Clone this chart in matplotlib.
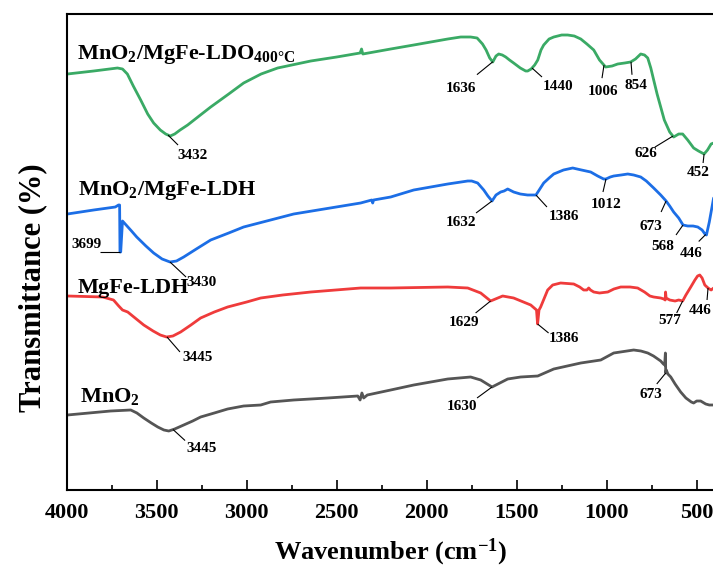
import numpy as np
import matplotlib
matplotlib.use("Agg")
import matplotlib.pyplot as plt
from matplotlib.ticker import MultipleLocator

plt.rcParams['font.family'] = ['Liberation Serif', 'DejaVu Serif']
plt.rcParams['font.weight'] = 'bold'
plt.rcParams['mathtext.fontset'] = 'custom'
plt.rcParams['mathtext.rm'] = 'Liberation Serif:bold'
plt.rcParams['mathtext.it'] = 'Liberation Serif:bold'
plt.rcParams['mathtext.bf'] = 'Liberation Serif:bold'

# ---------------- data (wavenumber, transmittance a.u., offset-stacked) -------------
ldo_wn = [3996, 3850, 3718, 3690, 3663, 3630, 3589, 3550, 3517, 3480, 3450, 3425, 3400, 3370,
          3328, 3250, 3200, 3100, 3017, 2920, 2828, 2644, 2500, 2370, 2362, 2355, 2200, 2072,
          1883, 1811, 1756, 1720, 1690, 1670, 1650, 1633, 1615, 1600, 1580, 1561, 1540, 1517,
          1480, 1450, 1439, 1420, 1400, 1383, 1365, 1350, 1320, 1294, 1250, 1217, 1180, 1144,
          1110, 1072, 1040, 1006, 970, 939, 900, 867, 840, 811, 790, 772, 755, 739, 720, 700,
          680, 650, 628, 600, 578, 550, 517, 490, 459, 440, 420, 406]
ldo_t = [416, 419, 422, 421, 416, 404, 390, 376, 367, 360, 356, 354, 356, 360,
         365, 376, 383, 396, 407, 416, 422, 429, 433, 437, 441, 436, 441, 445,
         451, 453, 453, 452, 446, 440, 432, 428, 434, 436, 435, 433, 430, 427,
         422, 419, 419, 421, 425, 430, 440, 445, 451, 453, 455, 455, 454, 451,
         446, 440, 430, 423, 424, 426, 427, 428, 431, 436, 435, 432, 422, 410, 396, 383,
         370, 358, 353, 356, 356, 350, 342, 339, 336, 340, 346, 347]

ldh_mn_wn = [3996, 3850, 3730, 3712, 3706, 3704, 3700, 3690, 3670, 3640, 3611, 3560, 3517,
             3470, 3426, 3390, 3350, 3280, 3200, 3100, 3017, 2739, 2367, 2305, 2300, 2295,
             2200, 2072, 1883, 1772, 1750, 1717, 1683, 1660, 1637, 1615, 1589, 1570, 1550,
             1517, 1480, 1440, 1393, 1375, 1350, 1320, 1294, 1240, 1189, 1140, 1089, 1050,
             1017, 1004, 980, 961, 920, 883, 850, 811, 780, 739, 700, 670, 650, 628, 600,
             576, 550, 520, 494, 470, 454, 446, 430, 415, 406]
ldh_mn_t = [276, 280, 283, 285, 285, 238, 238, 269, 265, 259, 253, 244, 237,
            231, 228, 229, 233, 241, 250, 257, 263, 276, 287, 290, 287, 290,
            293, 300, 306, 309, 309, 307, 300, 294, 289, 295, 298, 299, 301,
            298, 296, 295, 295, 300, 307, 312, 316, 320, 322, 320, 318, 314,
            311, 311, 313, 314, 315, 316, 315, 313, 309, 302, 295, 289, 284, 278, 272,
            265, 264, 264, 263, 260, 256, 255, 268, 283, 292]

ldh_wn = [3996, 3800, 3740, 3711, 3690, 3661, 3620, 3572, 3520, 3480, 3445, 3410, 3367, 3310,
          3256, 3180, 3106, 3000, 2922, 2800, 2644, 2367, 2200, 1883, 1772, 1700, 1645, 1578,
          1517, 1422, 1390, 1384, 1376, 1367, 1328, 1300, 1256, 1183, 1150, 1128, 1110, 1100,
          1090, 1072, 1040, 994, 960, 922, 870, 828, 790, 760, 739, 700, 683, 675, 673, 670,
          650, 620, 600, 578, 560, 533, 510, 495, 483, 470, 455, 437, 420, 406]
ldh_t = [194, 193, 190, 184, 180, 178, 172, 165, 159, 155, 153, 154, 158, 165,
         172, 178, 183, 188, 192, 195, 198, 202, 202, 203, 202, 197, 189, 194,
         192, 185, 180, 166, 180, 183, 200, 205, 207, 206, 203, 200, 200, 202,
         200, 198, 197, 198, 201, 203, 203, 202, 198, 194, 193, 192, 191, 190, 198, 192,
         190, 189, 190, 189, 195, 203, 210, 214, 215, 212, 205, 202, 200, 202]

mno2_wn = [3996, 3756, 3644, 3610, 3572, 3530, 3494, 3460, 3433, 3400, 3350, 3300, 3256, 3180,
           3106, 3017, 2922, 2867, 2739, 2550, 2383, 2370, 2360, 2350, 2330, 2200, 2072, 1883,
           1756, 1700, 1637, 1550, 1478, 1383, 1294, 1144, 1033, 961, 850, 810, 772, 740, 700,
           685, 678, 674, 672, 669, 660, 644, 620, 589, 560, 530, 517, 500, 478, 450, 430, 406]
mno2_t = [75, 79, 80, 77, 72, 67, 63, 60, 59, 61, 65, 69, 73, 77,
          81, 84, 85, 88, 90, 92, 94, 90, 97, 92, 95, 100, 105, 111,
          113, 110, 103, 111, 113, 114, 121, 127, 130, 137, 140, 139, 137, 134, 129,
          126, 125, 137, 117, 120, 116, 113, 106, 98, 92, 88, 87, 89, 89, 86, 85, 85]

series_names = [r'MnO$_{2}$/MgFe-LDO$_{\mathrm{400°C}}$', r'MnO$_{2}$/MgFe-LDH',
                'MgFe-LDH', r'MnO$_{2}$']
series_wn = [ldo_wn, ldh_mn_wn, ldh_wn, mno2_wn]
series_t = [ldo_t, ldh_mn_t, ldh_t, mno2_t]
colors = ['#3aaa65', '#1c6ee6', '#ef3b3b', '#555555']
name_anchor = [(3943, 431), (3937, 295), (3937, 197), (3926, 88)]

# peak labels: (label, wavenumber where leader starts)
peaks = [
    [('3432', 3437), ('1636', 1632), ('1440', 1415), ('1006', 1015), ('854', 865),
     ('626', 632), ('452', 459)],
    [('3699', 3704), ('3430', 3426), ('1632', 1637), ('1386', 1393), ('1012', 1004),
     ('673', 670), ('568', 576), ('446', 450)],
    [('3445', 3443), ('1629', 1645), ('1386', 1384), ('577', 578), ('446', 437)],
    [('3445', 3409), ('1630', 1637), ('673', 672)],
]
# layout offsets in pixels (dx, dy_down): leader end, text centre
peak_offsets = [
    [((10, 10), (25, 20)), ((-16, 13), (-32, 27)), ((10, 9), (26, 19)), ((-2, 13), (-1, 26)),
     ((1, 13), (5, 24)), ((-18, 11), (-27, 17)), ((-1, 9), (-6, 18))],
    [((-20, 0), (-33, -7)), ((16, 15), (32, 21)), ((-16, 12), (-31, 22)), ((11, 12), (28, 21)),
     ((-3, 13), (0, 26)), ((-5, 11), (-15, 26)), ((-7, 10), (-20, 21)), ((-7, 7), (-15, 19))],
    [((13, 15), (31, 21)), ((-15, 12), (-27, 21)), ((11, 9), (26, 14)), ((-6, 12), (-13, 20)),
     ((-1, 12), (-8, 22))],
    [((12, 11), (29, 19)), ((-15, 11), (-30, 19)), ((-9, 11), (-15, 22))],
]

xticks = [4000, 3500, 3000, 2500, 2000, 1500, 1000, 500]

# ---------------- figure ----------------
fig = plt.figure(figsize=(7.13, 5.69), dpi=100)
ax = fig.add_axes([66.7 / 713, 79 / 569, 648 / 713, 476 / 569])

for wn, t, c in zip(series_wn, series_t, colors):
    ax.plot(wn, t, color=c, lw=2.0, solid_joinstyle='round', solid_capstyle='round')

ax.set_xlim(4000, 400)
ax.set_ylim(0, 476)
fig.canvas.draw()

for s in range(4):
    wn = np.array(series_wn[s])[::-1]
    t = np.array(series_t[s])[::-1]
    for (lab, w), ((ex, ey), (tx, ty)) in zip(peaks[s], peak_offsets[s]):
        y0 = np.interp(w, wn, t)
        p0 = ax.transData.transform((w, y0))
        inv = ax.transData.inverted()
        d0 = inv.transform(p0)
        d1 = inv.transform(p0 + np.array([ex, -ey]))
        dt = inv.transform(p0 + np.array([tx, -ty]))
        ax.plot([d0[0], d1[0]], [d0[1], d1[1]], color='black', lw=0.8, solid_capstyle='butt')
        ax.text(dt[0], dt[1], lab, ha='center', va='center',
                fontsize=11, fontweight='bold')

for name, (xw, yv) in zip(series_names, name_anchor):
    ax.text(xw, yv, name, fontsize=16, fontweight='bold', ha='left', va='baseline')

ax.set_xticks(xticks)
ax.xaxis.set_minor_locator(MultipleLocator(250))
ax.set_yticks([])
ax.tick_params(axis='x', which='major', direction='in', length=7.5, width=1.2,
               labelsize=16, pad=9)
ax.tick_params(axis='x', which='minor', direction='in', length=3.8, width=1.2)
for lab in ax.get_xticklabels():
    lab.set_fontweight('bold')
for sp in ['left', 'top', 'bottom']:
    ax.spines[sp].set_linewidth(1.5)
ax.spines['right'].set_visible(False)

ax.set_xlabel('Wavenumber (cm$^{-1}$)', fontsize=19, fontweight='bold', labelpad=10)
fig.text(33 / 713, 1 - 288 / 569, 'Transmittance (%)', rotation=90, fontsize=22,
         fontweight='bold', ha='center', va='center')

fig.savefig('out.png', dpi=100)
